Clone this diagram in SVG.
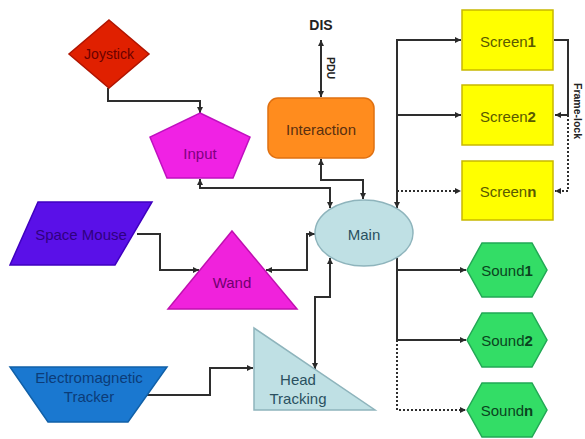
<svg xmlns="http://www.w3.org/2000/svg" width="585" height="439" viewBox="0 0 585 439">
<defs>
<marker id="ah" viewBox="0 0 10 10" refX="10" refY="5" markerWidth="6" markerHeight="6" markerUnits="userSpaceOnUse" orient="auto-start-reverse">
<path d="M0,0 L10,5 L0,10 z" fill="#2a2a2a"/>
</marker>
<style>
text{font-family:"Liberation Sans",Arial,sans-serif;font-size:15px;text-anchor:middle;dominant-baseline:central}
.b{font-weight:bold}
.c{fill:none;stroke:#2e2e2e;stroke-width:2}
.d{stroke-dasharray:2,2}
.e{marker-end:url(#ah)}
.s{marker-start:url(#ah)}
.scr{fill:#ffff00;stroke:#c8b800;stroke-width:1.5}
.st{fill:#5a5a00}
.snd{fill:#33dd66;stroke:#22a855;stroke-width:1.5}
.sdt{fill:#0a4420}
.lb{fill:#bfe0e4;stroke:#8eb4bc;stroke-width:1.5}
.sm{font-size:10.5px;fill:#222}
</style>
</defs>
<rect width="585" height="439" fill="#ffffff"/>
<g id="connectors">
<path class="c e" d="M108,88 V101 H200 V113"/>
<path class="c e s" d="M200,179 V188 H330 V208"/>
<path class="c e s" d="M321,159 V180 H363 V199"/>
<path class="c e s" d="M321,97 V40"/>
<path class="c e s" d="M397,208 V40 H461"/>
<path class="c e" d="M397,115 H461"/>
<path class="c d e" d="M397,191 H461"/>
<path class="c e" d="M554,40 H568 V115 H555"/>
<path class="c d e" d="M568,115 V191 H555"/>
<path class="c e" d="M397,258 V340 H466"/>
<path class="c e" d="M397,270 H466"/>
<path class="c d e" d="M397,340 V410 H466"/>
<path class="c e" d="M137,234 H160 V270 H199"/>
<path class="c e s" d="M266,270 H307 V234 H315"/>
<path class="c e" d="M147,395 H210 V368 H253"/>
<path class="c e s" d="M315,369 V297 H330 V258"/>
<text x="331" y="68" class="b sm" transform="rotate(90 331 68)">PDU</text>
<text x="578" y="111" class="b sm" transform="rotate(90 578 111)">Frame-lock</text>
</g>
<g id="dis"><text x="321" y="25" class="b" style="fill:#222;font-size:14px">DIS</text></g>
<g id="joystick">
<polygon points="109,20 149,54 109,88 69,54" fill="#e02000" stroke="#b01400" stroke-width="1.5"/>
<text x="109" y="54" style="fill:#6a0000;font-size:14px">Joystick</text>
</g>
<g id="input">
<polygon points="200,113 250,137 233,178 167,178 150,137" fill="#f022e4" stroke="#c010c0" stroke-width="1.5"/>
<text x="200" y="153" style="fill:#800080">Input</text>
</g>
<g id="interaction">
<rect x="268" y="98" width="106" height="60" rx="10" fill="#ff8c1e" stroke="#e07010" stroke-width="1.5"/>
<text x="321" y="129" style="fill:#5a3010">Interaction</text>
</g>
<g id="main">
<ellipse cx="364" cy="233" rx="49" ry="33" class="lb"/>
<text x="364" y="234" style="fill:#2a5060">Main</text>
</g>
<g id="space-mouse">
<polygon points="38,202 152,202 115,265 10,265" fill="#5a10e8" stroke="#4000c0" stroke-width="1.5"/>
<text x="81" y="234" style="fill:#300080">Space Mouse</text>
</g>
<g id="wand">
<polygon points="232,231 297,309 168,309" fill="#f022dc" stroke="#c010b0" stroke-width="1.5"/>
<text x="232" y="282" style="fill:#700070">Wand</text>
</g>
<g id="tracker">
<polygon points="10,367 167,367 128,422 48,422" fill="#1a78d0" stroke="#1060a8" stroke-width="1.5"/>
<text x="89" y="377" style="fill:#0c3c78">Electromagnetic</text>
<text x="89" y="396" style="fill:#0c3c78">Tracker</text>
</g>
<g id="head-tracking">
<polygon points="254,328 254,410 375,410" class="lb"/>
<text x="298" y="379" style="fill:#2a5060">Head</text>
<text x="298" y="398" style="fill:#2a5060">Tracking</text>
</g>
<g id="screen1"><rect class="scr" x="462" y="10" width="91" height="60"/><text class="st" x="508" y="41">Screen<tspan class="b">1</tspan></text></g>
<g id="screen2"><rect class="scr" x="462" y="85" width="91" height="60"/><text class="st" x="508" y="116">Screen<tspan class="b">2</tspan></text></g>
<g id="screenn"><rect class="scr" x="462" y="161" width="91" height="59"/><text class="st" x="508" y="191">Screen<tspan class="b">n</tspan></text></g>
<g id="sound1"><polygon class="snd" points="467,270 482,243 532,243 547,270 532,297 482,297"/><text class="sdt" x="507" y="270">Sound<tspan class="b">1</tspan></text></g>
<g id="sound2"><polygon class="snd" points="467,340 482,313 532,313 547,340 532,367 482,367"/><text class="sdt" x="507" y="340">Sound<tspan class="b">2</tspan></text></g>
<g id="soundn"><polygon class="snd" points="467,410 482,383 532,383 547,410 532,437 482,437"/><text class="sdt" x="507" y="410">Sound<tspan class="b">n</tspan></text></g>
</svg>
